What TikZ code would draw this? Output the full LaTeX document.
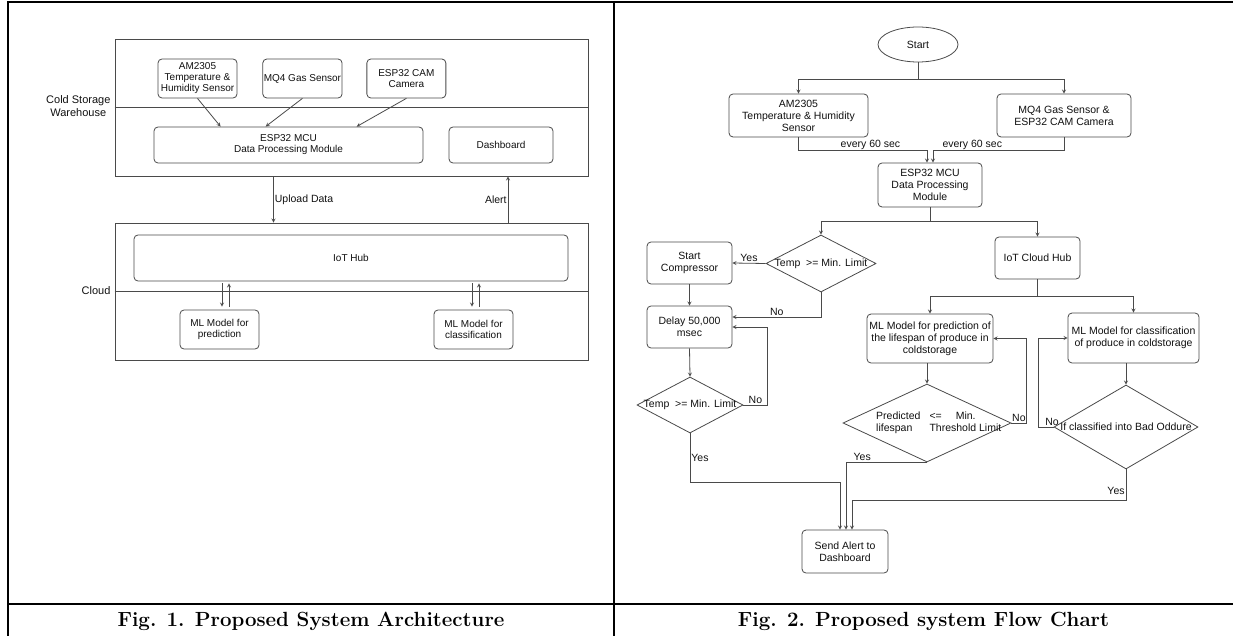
\documentclass[tikz,border=0pt]{standalone}
\usepackage{fontspec}
\setsansfont{Liberation Sans}
\usepackage{tikz}
\usetikzlibrary{arrows,positioning,calc,shapes.geometric}
\definecolor{ink}{HTML}{111111}
\definecolor{edge}{HTML}{4A4A4A}
\tikzset{
  every node/.style={font=\sffamily,text=ink},
  box/.style={draw=edge,line width=0.8pt,rounded corners=4pt,fill=white,align=center,
              inner sep=1pt,font=\sffamily\fontsize{10}{11}\selectfont},
  sens/.style={box,minimum width=79pt,minimum height=39pt},
  fbox/.style={box,font=\sffamily\fontsize{10.5}{12}\selectfont},
  term/.style={draw=edge,line width=0.8pt,ellipse,fill=white,inner sep=1pt,
               font=\sffamily\fontsize{10.5}{12}\selectfont},
  dec/.style={draw=edge,line width=0.8pt,diamond,inner sep=0pt,fill=white},
  lane/.style={draw=edge,line width=0.8pt,inner sep=0pt},
  ln/.style={draw=edge,line width=0.8pt},
  ar/.style={->,>=stealth,draw=edge,line width=0.8pt},
  lab/.style={font=\sffamily\fontsize{10.5}{12}\selectfont,inner sep=1pt},
  lanelab/.style={font=\sffamily\fontsize{11}{13}\selectfont,align=center,inner sep=0pt},
  figcap/.style={font=\rmfamily\bfseries\fontsize{20.5}{22}\selectfont,text=black},
  tbl/.style={draw=black,line width=1.8pt},
}
\begin{document}
\begin{tikzpicture}[x=1pt,y=-1pt]
\useasboundingbox (0,0) rectangle (1233,636);

% table frame and captions
\draw[tbl] (8,636) -- (8,2) -- (1233,2);
\draw[tbl] (614,2) -- (614,636);
\draw[tbl] (8,604) -- (1233,604);
\node[figcap] (cap1) at (311,621) {Fig. 1. Proposed System Architecture};
\node[figcap] (cap2) at (923.5,621) {Fig. 2. Proposed system Flow Chart};

% Fig. 1 -- architecture
\node[lane,minimum width=473pt,minimum height=137pt] (ware) at (351.5,107.5) {};
\node[lane,minimum width=473pt,minimum height=137pt] (cloud) at (351.5,291.5) {};
\draw[ln] (ware.west) -- (ware.east);
\draw[ln] (cloud.west) -- (cloud.east);
\node[lanelab,anchor=east] (warelab) at ($(ware.west)+(-4,-1)$) {Cold Storage\\Warehouse};
\node[lanelab,anchor=east] (cloudlab) at ($(cloud.west)+(-4,-1)$) {Cloud};

\node[sens] (am) at (197.5,78.5) {AM2305\\Temperature \&\\Humidity Sensor};
\node[sens,right=25pt of am] (mq) {MQ4 Gas Sensor};
\node[sens,right=24pt of mq] (cam) {ESP32 CAM\\Camera};
\node[box,minimum width=269pt,minimum height=36pt] (mcu) at (288.5,145) {ESP32 MCU\\Data Processing Module};
\node[box,minimum width=104pt,minimum height=36pt] (dash) at (501,145) {Dashboard};
\node[box,minimum width=434pt,minimum height=46pt] (hub) at (351,258) {IoT Hub};
\node[sens] (mlp) at (219.5,329.5) {ML Model for\\prediction};
\node[sens] (mlc) at (473.5,329.5) {ML Model for\\classification};

\draw[ar] (am.south) -- ($(mcu.north west)+(67,0)$);
\draw[ar] (mq.south) -- ($(mcu.north west)+(112,0)$);
\draw[ar] (cam.south) -- ($(mcu.north west)+(203,0)$);
\draw[ar] ($(ware.south)+(-78,0)$) -- node[lab,right]{Upload Data} ($(cloud.north)+(-78,0)$);
\draw[ar] ($(cloud.north)+(156.5,0)$) -- node[lab,left]{Alert} ($(ware.south)+(156.5,0)$);
\foreach \m/\a/\b in {mlp/2.5/9.5,mlc/-1.5/5.5} {
  \draw[ar] ($(\m.north |- hub.south)+(\a,2)$) -- ($(\m.north)+(\a,-3)$);
  \draw[ar] ($(\m.north)+(\b,-3)$) -- ($(\m.north |- hub.south)+(\b,2)$);
}

% Fig. 2 -- flow chart
\node[term,minimum width=80pt,minimum height=35pt] (start) at (918,44.5) {Start};
\node[fbox,minimum width=139pt,minimum height=43pt] (s1) at (798.5,115.5) {AM2305\\Temperature \& Humidity\\Sensor};
\node[fbox,minimum width=134pt,minimum height=43pt] (s2) at (1064,115.5) {MQ4 Gas Sensor \&\\ESP32 CAM Camera};
\node[fbox,minimum width=104pt,minimum height=44pt] (mcu2) at (930,185) {ESP32 MCU\\Data Processing\\Module};
\node[dec,minimum width=110pt,minimum height=57pt] (d1) at (821,263.5) {};
\node[lab] (d1t) at (d1) {Temp~ >= Min. Limit};
\node[fbox,minimum width=85pt,minimum height=42pt] (comp) at (689.5,263) {Start\\Compressor};
\node[fbox,minimum width=85pt,minimum height=42pt] (delay) at (689.5,327) {Delay 50,000\\msec};
\node[dec,minimum width=106pt,minimum height=56pt] (d2) at (690,405) {};
\node[lab] (d2t) at (d2) {Temp~ >= Min. Limit};
\node[fbox,minimum width=85pt,minimum height=42pt] (hub2) at (1037.5,258) {IoT Cloud Hub};
\node[fbox,minimum width=126pt,minimum height=49pt] (mlp2) at (930,338.5) {ML Model for prediction of\\the lifespan of produce in\\coldstorage};
\node[fbox,minimum width=131pt,minimum height=50pt] (mlc2) at (1133.5,338) {ML Model for classification\\of produce in coldstorage};
\node[dec,minimum width=168pt,minimum height=78pt] (d3) at (927,423) {};
\node[lab,anchor=west] (d3t) at (875,423)
 {\begin{tabular}{@{}l@{\hspace{9pt}}l@{}}Predicted & <=\hspace{14pt}Min.\\lifespan & Threshold Limit\end{tabular}};
\node[dec,minimum width=144pt,minimum height=84pt] (d4) at (1126,427) {};
\node[lab] (d4t) at (d4) {If classified into Bad Oddure};
\node[fbox,minimum width=86pt,minimum height=43pt] (alert) at (845,551.5) {Send Alert to\\Dashboard};

\draw[ln] (start.south) -- ++(0,17) coordinate (fk1);
\draw[ar] (fk1) -| (s1.north);
\draw[ar] (fk1) -| (s2.north);
\draw[ar] (s1.south) |- node[lab,pos=0.78,above]{every 60 sec} ($(mcu2.north)+(-3,-12)$) -- ($(mcu2.north)+(-3,0)$);
\draw[ar] (s2.south) |- node[lab,pos=0.85,above]{every 60 sec} ($(mcu2.north)+(3,-12)$) -- ($(mcu2.north)+(3,0)$);
\draw[ln] (mcu2.south) -- ++(0,14) coordinate (fk2);
\draw[ar] (fk2) -| (d1.north);
\draw[ar] (fk2) -| (hub2.north);
\draw[ar] (d1.west) -- node[lab,above]{Yes} (comp.east);
\draw[ar] (d1.south) |- node[lab,pos=0.75,above]{No} ($(delay.east)+(0,-10)$);
\draw[ar] (comp.south) -- (delay.north);
\draw[ar] (delay.south) -- (d2.north);
\draw[ar] (d2.east) -- node[lab,above]{No} ++(24,0) |- (delay.east);
\draw[ar] (d2.south) -- node[lab,right]{Yes} ++(0,49) -| ($(alert.north)+(-5,0)$);
\draw[ln] (hub2.south) -- ++(0,17) coordinate (fk3);
\draw[ar] (fk3) -| (mlp2.north);
\draw[ar] (fk3) -| (mlc2.north);
\draw[ar] (mlp2.south -| d3.north) -- (d3.north);
\draw[ar] (d3.east) -- node[lab,above]{No} ++(15,0) |- (mlp2.east);
\draw[ar] (d3.south) -| node[lab,pos=0.4,above]{Yes} ($(alert.north)+(1,0)$);
\draw[ar] (mlc2.south -| d4.north) -- (d4.north);
\draw[ar] (d4.west) -- node[lab,pos=0.1,above]{No} ++(-15,0) |- (mlc2.west);
\draw[ar] (d4.south) -- node[lab,pos=0.7,left]{Yes} ++(0,31) -| ($(alert.north)+(7,0)$);
\end{tikzpicture}
\end{document}
